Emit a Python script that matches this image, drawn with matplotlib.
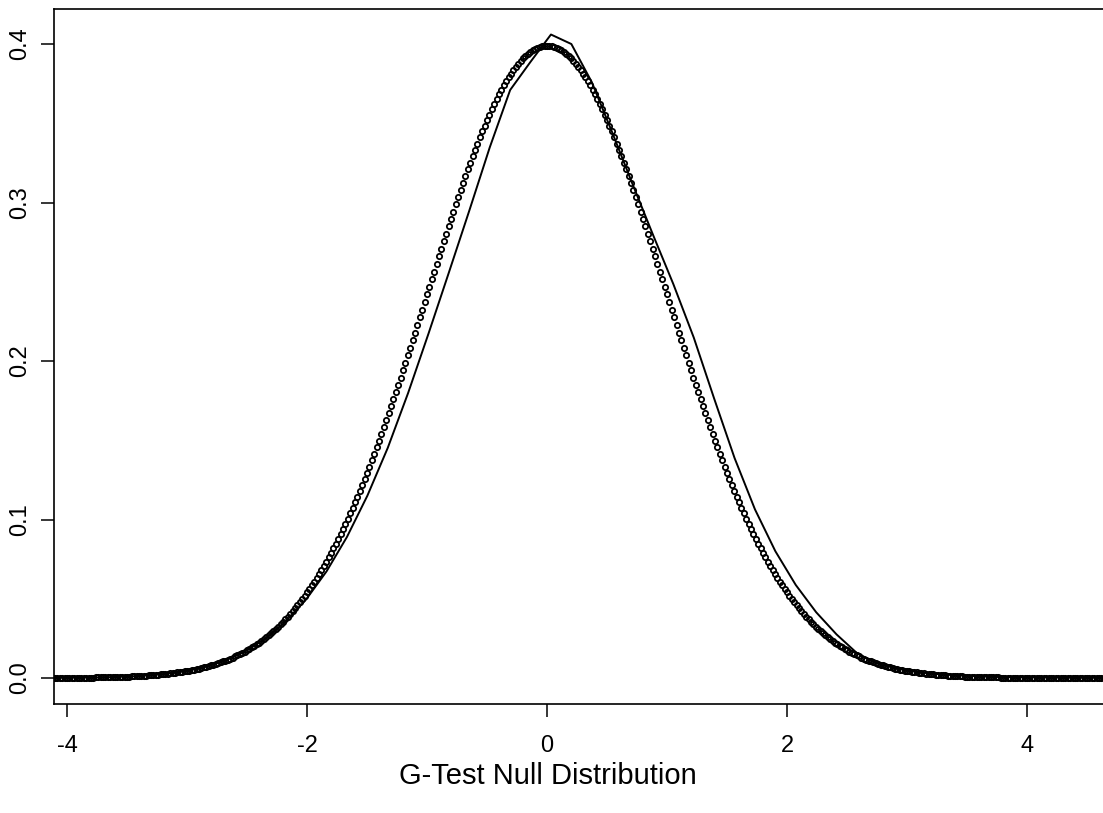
import numpy as np
import matplotlib
matplotlib.use("Agg")
import matplotlib.pyplot as plt

plt.rcParams['font.family'] = ['Liberation Sans', 'DejaVu Sans']
plt.rcParams['axes.unicode_minus'] = False

density_x = [-4.217, -4.047, -3.877, -3.707, -3.537, -3.367, -3.197, -3.027, -2.857, -2.687,
             -2.517, -2.347, -2.177, -2.007, -1.837, -1.667, -1.497, -1.327, -1.157, -0.987,
             -0.817, -0.647, -0.477, -0.307, -0.137, 0.033, 0.203, 0.373, 0.543, 0.713,
             0.883, 1.053, 1.223, 1.393, 1.563, 1.733, 1.903, 2.073, 2.243, 2.413,
             2.583, 2.753, 2.923, 3.093, 3.263, 3.433, 3.603, 3.773, 3.943, 4.113,
             4.283, 4.453, 4.623]
density_y = [0.0001, 0.0001, 0.0002, 0.0004, 0.0008, 0.0014, 0.0024, 0.0041, 0.0067, 0.0108,
             0.0166, 0.0248, 0.0357, 0.0496, 0.0673, 0.0890, 0.1150, 0.1452, 0.1799, 0.2174,
             0.2560, 0.2950, 0.3348, 0.3710, 0.3888, 0.4060, 0.4000, 0.3760, 0.3443, 0.3116,
             0.2797, 0.2485, 0.2148, 0.1763, 0.1388, 0.1064, 0.0800, 0.0587, 0.0415, 0.0275,
             0.0157, 0.0090, 0.0058, 0.0036, 0.0024, 0.0016, 0.0010, 0.0006, 0.0004, 0.0003,
             0.0002, 0.0001, 0.0001]

# Dotted reference: standard normal density evaluated on a fine grid
ref_mean = 0.0
ref_sd = 1.0
ref_grid_start, ref_grid_stop, ref_grid_step = -4.2, 4.7, 0.02

x_ticks = [-4, -2, 0, 2, 4]
y_ticks = [0.0, 0.1, 0.2, 0.3, 0.4]
x_label = "G-Test Null Distribution"

W, H = 1103, 813
fig = plt.figure(figsize=(W / 100, H / 100), dpi=100)
ax = fig.add_axes([54 / W, (H - 704) / H, (1105 - 54) / W, (704 - 9) / H])

rx = np.arange(ref_grid_start, ref_grid_stop, ref_grid_step)
ry = np.exp(-0.5 * ((rx - ref_mean) / ref_sd) ** 2) / (ref_sd * np.sqrt(2 * np.pi))

ax.plot(density_x, density_y, color='black', linewidth=1.4, zorder=3)
ax.plot(rx, ry, linestyle='none', marker='o', markersize=3.8, markerfacecolor='none',
        markeredgecolor='black', markeredgewidth=1.3, zorder=2)

ax.set_xlim(-4.1083, 4.65)
ax.set_ylim(-0.0164, 0.4221)
ax.set_xticks(x_ticks)
ax.set_xticklabels([f"{t:g}" for t in x_ticks])
ax.set_yticks(y_ticks)
ax.set_yticklabels([f"{t:.1f}" for t in y_ticks], rotation=90, va='center')
ax.tick_params(axis='both', direction='out', length=9.5, width=1.1, labelsize=17)
ax.tick_params(axis='x', pad=13)
ax.tick_params(axis='y', pad=7)
for s in ax.spines.values():
    s.set_linewidth(1.2)
fig.text(548 / W, (H - 776) / H, x_label, fontsize=21, ha='center', va='center')

fig.savefig("out.png", dpi=100)
